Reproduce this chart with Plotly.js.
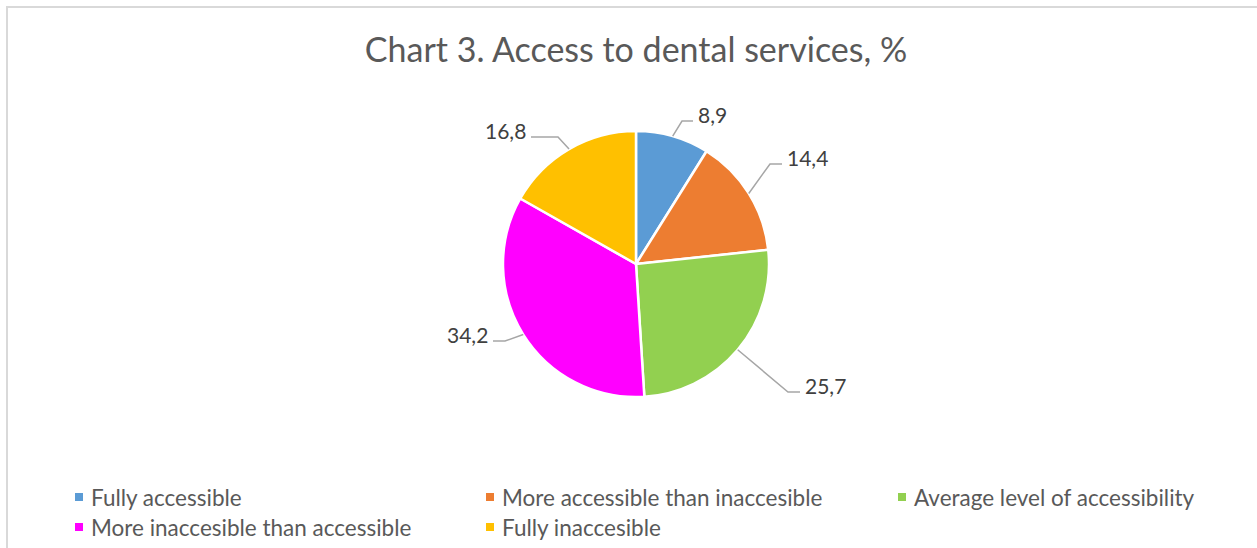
<!DOCTYPE html>
<html>
<head>
<meta charset="utf-8">
<script src="https://cdn.plot.ly/plotly-3.0.1.min.js"></script>
<style>html,body{margin:0;padding:0;background:#fff;}#chart{width:1257px;height:548px;}</style>
</head>
<body>
<div id="chart"></div>
<script>
// ---- data ----
const categories = [
  "Fully accessible",
  "More accessible than inaccesible",
  "Average level of accessibility",
  "More inaccesible than accessible",
  "Fully inaccesible"
];
const values = [8.9, 14.4, 25.7, 34.2, 16.8];
const colors = ["#5B9BD5", "#ED7D31", "#92D050", "#FF00FF", "#FFC000"];
const titleText = "Chart 3. Access to dental services, %";

// ---- layout config (pixels) ----
const W = 1257, H = 548;
const CX = 636, CY = 264, R = 133;
// label leader: [elbowX, elbowY, endX], side
const leaders = [
  [682, 121, 693, "left"],
  [770, 164, 782, "left"],
  [788, 392, 800, "left"],
  [505, 341, 493, "right"],
  [558, 137, 531, "right"]
];
const legendCols = [75, 486, 898];
const legendRows = [497, 527];

const px = x => x / W;
const py = y => 1 - y / H;
const fontFam = "Lato, 'Open Sans', sans-serif";

const total = values.reduce((a, b) => a + b, 0);
const shapes = [];
const annotations = [];

// chart border
shapes.push({type: "rect", xref: "paper", yref: "paper",
  x0: px(7), x1: px(W + 20), y0: py(H + 20), y1: py(7),
  line: {color: "#D9D9D9", width: 2}, fillcolor: "rgba(0,0,0,0)", layer: "below"});

// leader lines + labels
let cum = 0;
values.forEach((v, i) => {
  const mid = (cum + v / 2) / total * 2 * Math.PI;
  cum += v;
  const ex = CX + R * Math.sin(mid);
  const ey = CY - R * Math.cos(mid);
  const [bx, by, endX, side] = leaders[i];
  shapes.push({type: "path", xref: "paper", yref: "paper",
    path: `M ${px(ex)},${py(ey)} L ${px(bx)},${py(by)} L ${px(endX)},${py(by)}`,
    line: {color: "#A6A6A6", width: 1.5}});
  annotations.push({xref: "paper", yref: "paper",
    x: px(side === "left" ? endX + 3 : endX - 3), y: py(by - 7),
    xanchor: side, yanchor: "middle", showarrow: false,
    text: v.toFixed(1).replace(".", ","),
    font: {family: fontFam, size: 21, color: "#404040"}});
});

// legend
categories.forEach((c, i) => {
  const col = i % 3, row = Math.floor(i / 3);
  const sx = legendCols[col], sy = legendRows[row];
  shapes.push({type: "rect", xref: "paper", yref: "paper",
    x0: px(sx), x1: px(sx + 8), y0: py(sy + 4), y1: py(sy - 4),
    line: {width: 0}, fillcolor: colors[i]});
  annotations.push({xref: "paper", yref: "paper",
    x: px(sx + 14), y: py(sy), xanchor: "left", yanchor: "middle",
    showarrow: false, text: c,
    font: {family: fontFam, size: 22.5, color: "#595959"}});
});

const trace = {
  type: "pie",
  labels: categories,
  values: values,
  sort: false,
  direction: "clockwise",
  rotation: 0,
  textinfo: "none",
  marker: {colors: colors, line: {color: "#FFFFFF", width: 2.5}},
  domain: {x: [px(CX - R), px(CX + R)], y: [py(CY + R), py(CY - R)]},
  showlegend: false
};

const layout = {
  width: W, height: H,
  margin: {l: 0, r: 0, t: 0, b: 0},
  paper_bgcolor: "#FFFFFF",
  showlegend: false,
  title: {text: titleText, x: px(636), y: py(50), xref: "paper", yref: "paper",
    xanchor: "center", yanchor: "middle",
    font: {family: fontFam, size: 34, color: "#595959"}},
  shapes: shapes,
  annotations: annotations
};

Plotly.newPlot("chart", [trace], layout, {displayModeBar: false, staticPlot: true});
</script>
</body>
</html>
